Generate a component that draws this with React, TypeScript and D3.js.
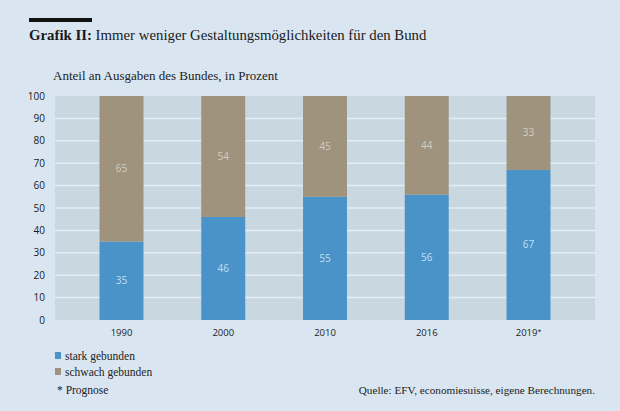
import React, { useEffect, useRef } from 'react';
import * as d3 from 'd3';

const years = ['1990', '2000', '2010', '2016', '2019*'];
const stark = [35, 46, 55, 56, 67];
const schwach = [65, 54, 45, 44, 33];
const yTicks = [0, 10, 20, 30, 40, 50, 60, 70, 80, 90, 100];

const W = 620;
const H = 411;
const BLUE = '#4a93c9';
const BROWN = '#9f937d';
const SERIF = '"Liberation Serif", "DejaVu Serif", serif';
const SANS = '"Open Sans", "Noto Sans", sans-serif';

const App: React.FC = () => {
  const svgRef = useRef<SVGSVGElement>(null);

  useEffect(() => {
    if (!svgRef.current) return;
    const svg = d3.select(svgRef.current);
    svg.selectAll('*').remove();

    svg.append('rect').attr('width', W).attr('height', H).attr('fill', '#d9e6f1');

    // header
    svg.append('rect').attr('x', 29).attr('y', 18).attr('width', 63).attr('height', 4).attr('fill', '#111');
    const title = svg.append('text').attr('x', 29).attr('y', 40)
      .attr('font-family', SERIF).attr('font-size', 14.8).attr('fill', '#1a1a1a');
    title.append('tspan').attr('font-weight', 'bold').text('Grafik II:');
    title.append('tspan').text(' Immer weniger Gestaltungsmöglichkeiten für den Bund');

    svg.append('text').attr('x', 53).attr('y', 80)
      .attr('font-family', SERIF).attr('font-size', 13).attr('fill', '#222')
      .text('Anteil an Ausgaben des Bundes, in Prozent');

    const left = 55, right = 595, top = 96, bottom = 320;

    const x = d3.scaleBand<string>()
      .domain(years)
      .range([left, right])
      .paddingInner(0.568)
      .paddingOuter(0.4375);

    const y = d3.scaleLinear().domain([0, 100]).range([bottom, top]);

    const g = svg.append('g');

    g.append('rect')
      .attr('x', left).attr('y', top)
      .attr('width', right - left).attr('height', bottom - top)
      .attr('fill', '#c9d7e0');

    g.selectAll('line.grid')
      .data(yTicks.filter(t => t > 0 && t < 100))
      .enter()
      .append('line')
      .attr('class', 'grid')
      .attr('x1', left).attr('x2', right)
      .attr('y1', d => y(d)).attr('y2', d => y(d))
      .attr('stroke', '#e2edf6').attr('stroke-width', 1.5);

    g.selectAll('text.ytick')
      .data(yTicks)
      .enter()
      .append('text')
      .attr('class', 'ytick')
      .attr('x', 45)
      .attr('y', d => y(d))
      .attr('dy', '0.35em')
      .attr('text-anchor', 'end')
      .attr('font-family', SANS).attr('font-size', 10).attr('fill', '#1a1a1a')
      .text(d => d);

    const data = years.map((yr, i) => ({ yr, s: stark[i], w: schwach[i] }));

    // stark gebunden (bottom)
    g.selectAll('rect.stark')
      .data(data)
      .enter()
      .append('rect')
      .attr('class', 'stark')
      .attr('x', d => x(d.yr)!)
      .attr('width', x.bandwidth())
      .attr('y', d => y(d.s))
      .attr('height', d => y(0) - y(d.s))
      .attr('fill', BLUE);

    // schwach gebunden (top)
    g.selectAll('rect.schwach')
      .data(data)
      .enter()
      .append('rect')
      .attr('class', 'schwach')
      .attr('x', d => x(d.yr)!)
      .attr('width', x.bandwidth())
      .attr('y', d => y(d.s + d.w))
      .attr('height', d => y(d.s) - y(d.s + d.w))
      .attr('fill', BROWN);

    g.selectAll('text.vs')
      .data(data)
      .enter()
      .append('text')
      .attr('x', d => x(d.yr)! + x.bandwidth() / 2)
      .attr('y', d => y(d.s / 2))
      .attr('dy', '0.35em')
      .attr('text-anchor', 'middle')
      .attr('font-family', SANS).attr('font-size', 10).attr('fill', '#c3def2')
      .text(d => d.s);

    g.selectAll('text.vw')
      .data(data)
      .enter()
      .append('text')
      .attr('x', d => x(d.yr)! + x.bandwidth() / 2)
      .attr('y', d => y(d.s + d.w / 2))
      .attr('dy', '0.35em')
      .attr('text-anchor', 'middle')
      .attr('font-family', SANS).attr('font-size', 10).attr('fill', '#d4cdbf')
      .text(d => d.w);

    const xLabels = g.selectAll('text.xtick')
      .data(years)
      .enter()
      .append('text')
      .attr('x', d => x(d)! + x.bandwidth() / 2)
      .attr('y', 336)
      .attr('text-anchor', 'middle')
      .attr('font-family', SANS).attr('font-size', 9.5).attr('fill', '#222');
    xLabels.append('tspan').text(d => d.replace('*', ''));
    xLabels.append('tspan')
      .attr('font-size', 7).attr('dy', -2)
      .text(d => (d.includes('*') ? '*' : ''));

    // legend
    const legend = [
      { label: 'stark gebunden', color: BLUE },
      { label: 'schwach gebunden', color: BROWN },
    ];
    legend.forEach((l, i) => {
      svg.append('rect').attr('x', 55).attr('y', 352 + i * 16).attr('width', 6).attr('height', 7).attr('fill', l.color);
      svg.append('text').attr('x', 65).attr('y', 360 + i * 16)
        .attr('font-family', SERIF).attr('font-size', 11.5).attr('fill', '#222')
        .text(l.label);
    });
    svg.append('text').attr('x', 57).attr('y', 394)
      .attr('font-family', SERIF).attr('font-size', 11.5).attr('fill', '#222')
      .text('* Prognose');
    svg.append('text').attr('x', 595).attr('y', 394).attr('text-anchor', 'end')
      .attr('font-family', SERIF).attr('font-size', 11.2).attr('fill', '#222')
      .text('Quelle: EFV, economiesuisse, eigene Berechnungen.');
  }, []);

  return <svg ref={svgRef} width={W} height={H} style={{ display: 'block', position: 'absolute', left: 0, top: 0 }} />;
};

export default App;
